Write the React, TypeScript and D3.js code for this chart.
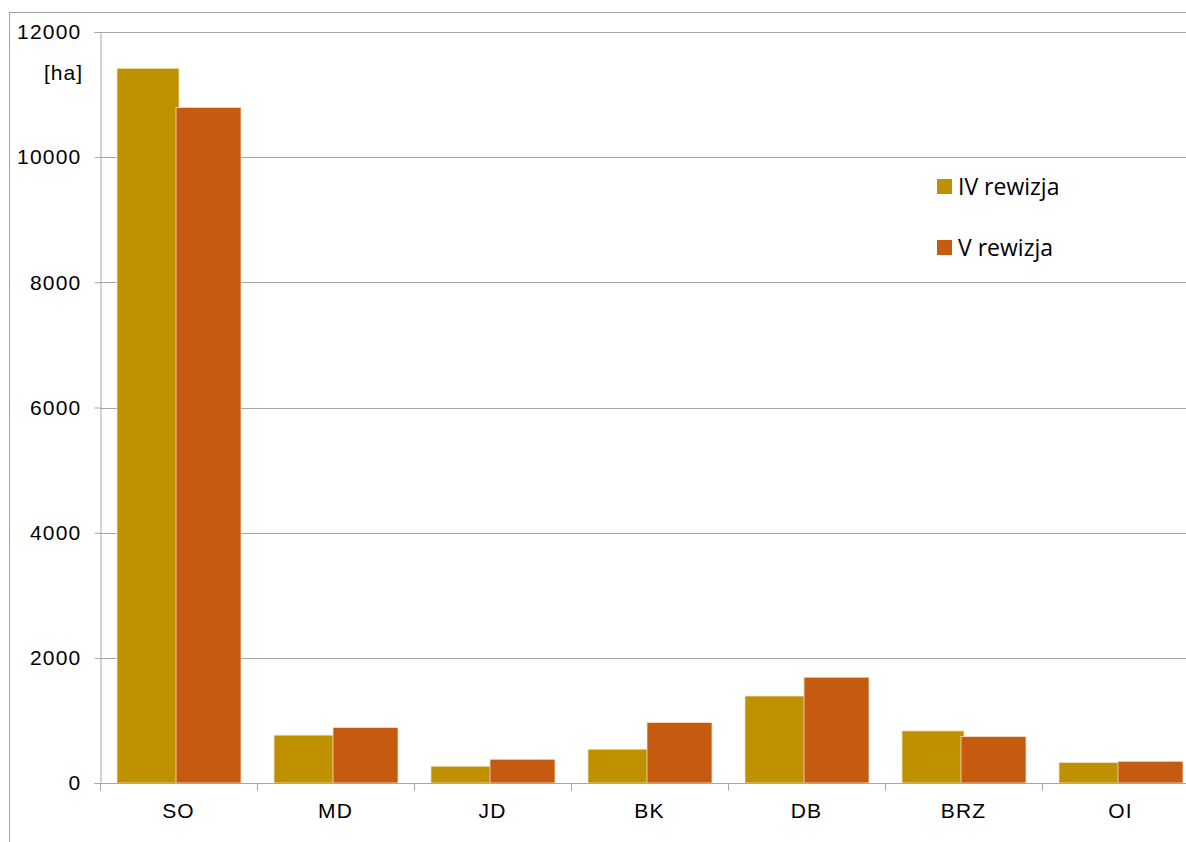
import { useRef, useEffect } from 'react';
import * as d3 from 'd3';

const categories = ['SO', 'MD', 'JD', 'BK', 'DB', 'BRZ', 'OI'];
const seriesNames = ['IV rewizja', 'V rewizja'];
const rev4 = [11420, 765, 268, 540, 1390, 832, 327];
const rev5 = [10795, 886, 379, 966, 1690, 742, 347];
const yTicks = [0, 2000, 4000, 6000, 8000, 10000, 12000];
const colors = ['#BF9000', '#C55A11'];

export default function App() {
  const ref = useRef<SVGSVGElement>(null);

  useEffect(() => {
    const svg = d3.select(ref.current);
    svg.selectAll('*').remove();

    const W = 1186, H = 842;
    const left = 100, bottom = 783, top = 32;
    const band = 157;
    const grid = '#a6a6a6';
    const axisFont = '"Liberation Sans", Arial, sans-serif';

    svg.append('rect').attr('x', 9.5).attr('y', 12.5).attr('width', W).attr('height', H)
      .attr('fill', 'none').attr('stroke', '#a0a0a0');

    const x = d3.scaleBand().domain(categories).range([left, left + band * categories.length]).padding(0);
    const y = d3.scaleLinear().domain([0, 12000]).range([bottom, top]);

    const g = svg.append('g');

    // gridlines
    g.selectAll('line.grid').data(yTicks.filter(d => d > 0)).enter().append('line')
      .attr('x1', left).attr('x2', W)
      .attr('y1', d => Math.round(y(d)) + 0.5).attr('y2', d => Math.round(y(d)) + 0.5)
      .attr('stroke', grid).attr('stroke-width', 1);

    // y axis
    const yAxis = g.append('g').attr('transform', `translate(${left + 0.5},0)`)
      .call(d3.axisLeft(y).tickValues(yTicks).tickSize(6).tickPadding(13).tickFormat(d3.format('d')));
    yAxis.select('.domain').attr('stroke', grid);
    yAxis.selectAll('line').attr('stroke', grid);
    yAxis.selectAll('text').attr('fill', '#000').style('font-family', axisFont)
      .style('font-size', '21px').style('letter-spacing', '1.2px');

    svg.append('text').attr('x', 83).attr('y', 80).attr('text-anchor', 'end')
      .style('font-family', axisFont).style('font-size', '21px').style('letter-spacing', '1px')
      .text('[ha]');

    // bars
    const data = categories.map((c, i) => ({ c, v: [rev4[i], rev5[i]] }));
    const offs = [17, 76];
    const widths = [62, 65];
    const groups = g.selectAll('g.cat').data(data).enter().append('g')
      .attr('transform', d => `translate(${x(d.c)},0)`);
    seriesNames.forEach((_, si) => {
      groups.append('rect')
        .attr('x', offs[si]).attr('width', widths[si])
        .attr('y', d => y(d.v[si])).attr('height', d => bottom - y(d.v[si]))
        .attr('fill', colors[si]).attr('stroke', '#f3e2c4').attr('stroke-width', 0.8);
    });

    // x axis
    const xAxis = g.append('g').attr('transform', `translate(0,${bottom + 0.5})`);
    xAxis.append('line').attr('x1', left).attr('x2', W).attr('stroke', grid);
    const bounds = categories.map(c => x(c) as number);
    xAxis.selectAll('line.tick').data(bounds).enter().append('line')
      .attr('x1', d => d + 0.5).attr('x2', d => d + 0.5).attr('y1', 0).attr('y2', 7)
      .attr('stroke', grid);
    xAxis.selectAll('text').data(categories).enter().append('text')
      .attr('x', d => (x(d) as number) + x.bandwidth() / 2).attr('y', 34)
      .attr('text-anchor', 'middle')
      .style('font-family', axisFont).style('font-size', '21px').style('letter-spacing', '1.2px')
      .text(d => d);

    // legend
    const lg = svg.append('g').attr('transform', 'translate(937,179)');
    seriesNames.forEach((name, i) => {
      lg.append('rect').attr('x', 0).attr('y', i * 61).attr('width', 15).attr('height', 15).attr('fill', colors[i]);
      lg.append('text').attr('x', 21).attr('y', i * 61 + 16)
        .style('font-family', '"Open Sans", "Noto Sans", sans-serif').style('font-size', '23px')
        .text(name);
    });
  }, []);

  return (
    <div style={{ position: 'absolute', left: 0, top: 0 }}>
      <svg ref={ref} width={1186} height={842} style={{ display: 'block', background: '#fff' }} />
    </div>
  );
}
